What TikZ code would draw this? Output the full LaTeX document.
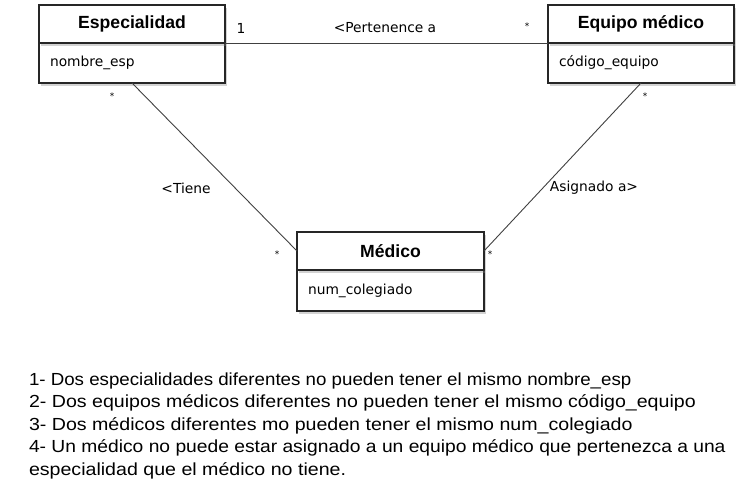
\documentclass[tikz,border=0pt]{standalone}
\usepackage{fontspec}
\setmainfont{Liberation Sans}
\newfontfamily\labelfont{DejaVu Sans}
\newfontfamily\rulefont[FakeStretch=1.12]{Liberation Sans}
\usetikzlibrary{shadows}
\begin{document}
\begin{tikzpicture}[x=1pt,
y=-1pt,
every node/.style={
rectangle,
align = center,
outer sep=0pt,
inner sep=0pt,
},
head/.style={
draw=black!85,
line width=1.2pt,
fill=white,
minimum width=186pt,
minimum height=38pt,
font=\fontsize{17.6}{20}\selectfont\bfseries,
anchor=north west,
drop shadow={shadow xshift=2pt,shadow yshift=-3pt,opacity=0.35},
},
attr/.style={
draw=black!85,
line width=1.2pt,
fill=white,
minimum height=40pt,
inner xsep=11pt,
text width=164pt,
align=left,
font=\labelfont\fontsize{13.8}{16}\selectfont,
anchor=north,
drop shadow={shadow xshift=2pt,shadow yshift=-3pt,opacity=0.35},
},
assoc/.style={
font=\labelfont\fontsize{13.8}{16}\selectfont,
},
mult/.style={
font=\labelfont\fontsize{9}{10}\selectfont,
},
rule/.style={
anchor=base west,
font=\rulefont\fontsize{17.5}{22.5}\selectfont,
},
link/.style={
draw=black!75,
line width=0.9pt,
}]
\useasboundingbox (0,0) rectangle (752,500);

%classes
\node[attr]at(132,43)(espA){nombre\_esp};
\node[head]at(39,5)(esp){Especialidad};
\node[attr]at(641,43)(eqA){código\_equipo};
\node[head]at(548,5)(eq){Equipo médico};
\node[attr,minimum height=41pt,text width=165pt]at(390.5,270)(medA){num\_colegiado};
\node[head,minimum width=187pt]at(297,232)(med){Médico};

%associations
\draw[link](esp.south east)--(eq.south west);
\draw[link](espA.south)--(med.west);
\draw[link](eqA.south)--(med.east);

\node[assoc]at(385,28)(pert){<Pertenence a};
\node[assoc]at(186,188)(tiene){<Tiene};
\node[assoc]at(594,188)(asig){Asignado a>};

\node[assoc]at(241,28)(m1){1};
\node[mult]at(527,26)(m2){*};
\node[mult]at(112,96)(m3){*};
\node[mult]at(645,96)(m4){*};
\node[mult]at(277,254)(m5){*};
\node[mult]at(490,254)(m6){*};

%constraints
\node[rule]at(29,385)(r1){\scalebox{0.955}[1]{1- Dos especialidades diferentes no pueden tener el mismo nombre\_esp}};
\node[rule]at(29,407.5)(r2){2- Dos equipos médicos diferentes no pueden tener el mismo código\_equipo};
\node[rule]at(29,430)(r3){3- Dos médicos diferentes mo pueden tener el mismo num\_colegiado};
\node[rule]at(29,452.5)(r4){\scalebox{0.982}[1]{4- Un médico no puede estar asignado a un equipo médico que pertenezca a una}};
\node[rule]at(29,475)(r5){especialidad que el médico no tiene.};
\end{tikzpicture}
\end{document}
